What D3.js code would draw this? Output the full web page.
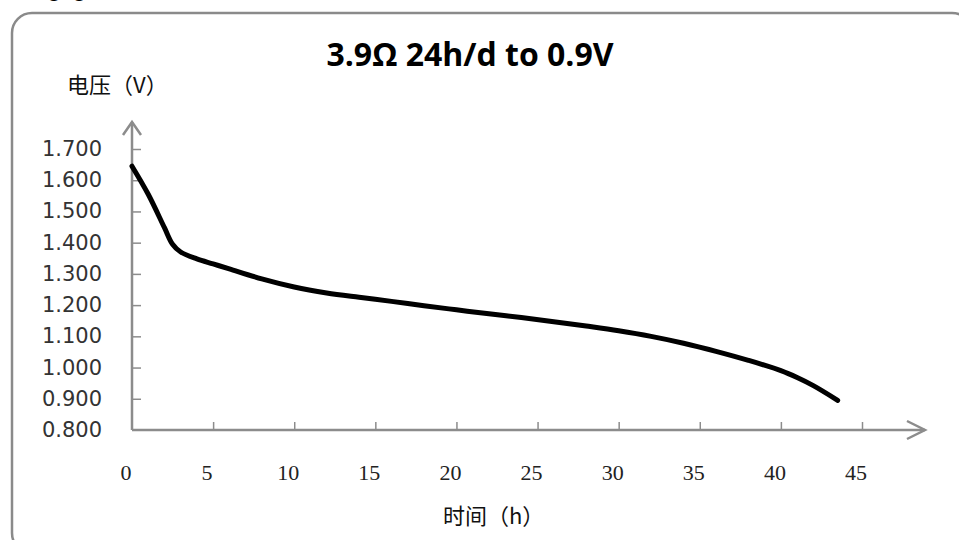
<!DOCTYPE html>
<html>
<head>
<meta charset="utf-8">
<script src="https://cdn.jsdelivr.net/npm/d3@7"></script>
<style>
  body{margin:0;background:#fff;}
  svg{display:block;}
</style>
</head>
<body>
<div id="chart_area"></div>
<script>
// discharge curve
let hours=[0,1,2,2.5,3,4,5,6,8,10,12,14,16,18,20,22,24,26,28,30,32,34,36,38,40,41,42,43.5];
let volts=[1.645,1.555,1.448,1.395,1.370,1.348,1.332,1.316,1.284,1.258,1.239,1.225,1.212,1.198,1.185,1.172,1.160,1.147,1.133,1.118,1.100,1.078,1.052,1.023,0.990,0.968,0.942,0.895];
let xTicks=[0,5,10,15,20,25,30,35,40,45];
let yTicks=[0.8,0.9,1.0,1.1,1.2,1.3,1.4,1.5,1.6,1.7];
let title="3.9Ω 24h/d to 0.9V";
let yTitle="电压（V）";
let xTitle="时间（h）";

let data=hours.map(function(h,i){return {x:h,y:volts[i]}});

function plotData(){
	const W=959,H=540;
	let svG=d3.select("#chart_area")
	  .append("svg")
	    .attr("width",W)
	    .attr("height",H);

	// frame (runs off the right and bottom edge)
	svG.append("rect")
	  .attr("x",12).attr("y",13)
	  .attr("width",960).attr("height",540)
	  .attr("rx",20).attr("ry",20)
	  .attr("fill","#fff")
	  .attr("stroke","#8a8a8a")
	  .attr("stroke-width",2.5);

	// cut off caption line above the frame
	svG.append("text")
	  .attr("x",-14).attr("y",-3)
	  .attr("font-family","Open Sans")
	  .attr("font-size",18)
	  .text("Discharging condition: 3.9Ω, 24h/d");

	let x=d3.scaleLinear()
	    .domain([0,45])
	    .range([132,862]);
	let y=d3.scaleLinear()
	    .domain([0.8,1.7])
	    .range([430,149]);

	const axisCol="#8c8c8c";

	// y axis line + arrow
	svG.append("line")
	  .attr("x1",132).attr("x2",132).attr("y1",y(0.8)).attr("y2",122)
	  .attr("stroke",axisCol).attr("stroke-width",2.5);
	svG.append("path")
	  .attr("d","M123,135 L132,122 L141,135")
	  .attr("fill","none").attr("stroke",axisCol).attr("stroke-width",2.5);

	// x axis line + arrow
	svG.append("line")
	  .attr("x1",x(0)).attr("x2",925).attr("y1",430).attr("y2",430)
	  .attr("stroke",axisCol).attr("stroke-width",2.5);
	svG.append("path")
	  .attr("d","M907,421 L925,430 L907,439")
	  .attr("fill","none").attr("stroke",axisCol).attr("stroke-width",2.5);

	// y ticks (inside) and labels
	let yAx=svG.append('g')
	  .attr("transform","translate(132,0)")
	  .call(d3.axisRight(y).tickValues(yTicks.slice(1)).tickSize(9).tickFormat(""));
	yAx.select(".domain").remove();
	yAx.selectAll("line").attr("stroke",axisCol).attr("stroke-width",1.5);

	svG.append("g").selectAll("text")
	  .data(yTicks)
	  .enter()
	  .append("text")
	    .attr("x",102)
	    .attr("y",function(d){return y(d)+7})
	    .attr("text-anchor","end")
	    .attr("font-family","DejaVu Sans")
	    .attr("font-size",21)
	    .attr("fill","#333")
	    .text(function(d){return d3.format(".3f")(d)});

	// x ticks (upward) and labels
	let xAx=svG.append('g')
	  .attr("transform","translate(0,430)")
	  .call(d3.axisTop(x).tickValues(xTicks.slice(1)).tickSize(8).tickFormat(""));
	xAx.select(".domain").remove();
	xAx.selectAll("line").attr("stroke",axisCol).attr("stroke-width",1.5);

	svG.append("g").selectAll("text")
	  .data(xTicks)
	  .enter()
	  .append("text")
	    .attr("x",function(d){return x(d)-6})
	    .attr("y",480)
	    .attr("text-anchor","middle")
	    .attr("font-family","Liberation Serif")
	    .attr("font-size",22)
	    .attr("fill","#222")
	    .text(function(d){return d});

	// curve
	let line=d3.line()
	  .x(function(d){return x(d.x)})
	  .y(function(d){return y(d.y)})
	  .curve(d3.curveCatmullRom);
	svG.append("path")
	  .datum(data)
	  .attr("d",line)
	  .attr("fill","none")
	  .attr("stroke","#000")
	  .attr("stroke-width",5)
	  .attr("stroke-linecap","round");

	// titles
	svG.append("text")
	  .attr("x",470).attr("y",66)
	  .attr("text-anchor","middle")
	  .attr("font-family","Open Sans")
	  .attr("font-weight","bold")
	  .attr("font-size",32)
	  .text(title);

	svG.append("text")
	  .attr("x",67).attr("y",93)
	  .attr("font-family","Noto Sans CJK SC")
	  .attr("font-size",22)
	  .attr("fill","#111")
	  .text(yTitle);

	svG.append("text")
	  .attr("x",443).attr("y",524)
	  .attr("font-family","Noto Sans CJK SC")
	  .attr("font-size",22)
	  .attr("fill","#111")
	  .text(xTitle);
}

plotData();
</script>
</body>
</html>
